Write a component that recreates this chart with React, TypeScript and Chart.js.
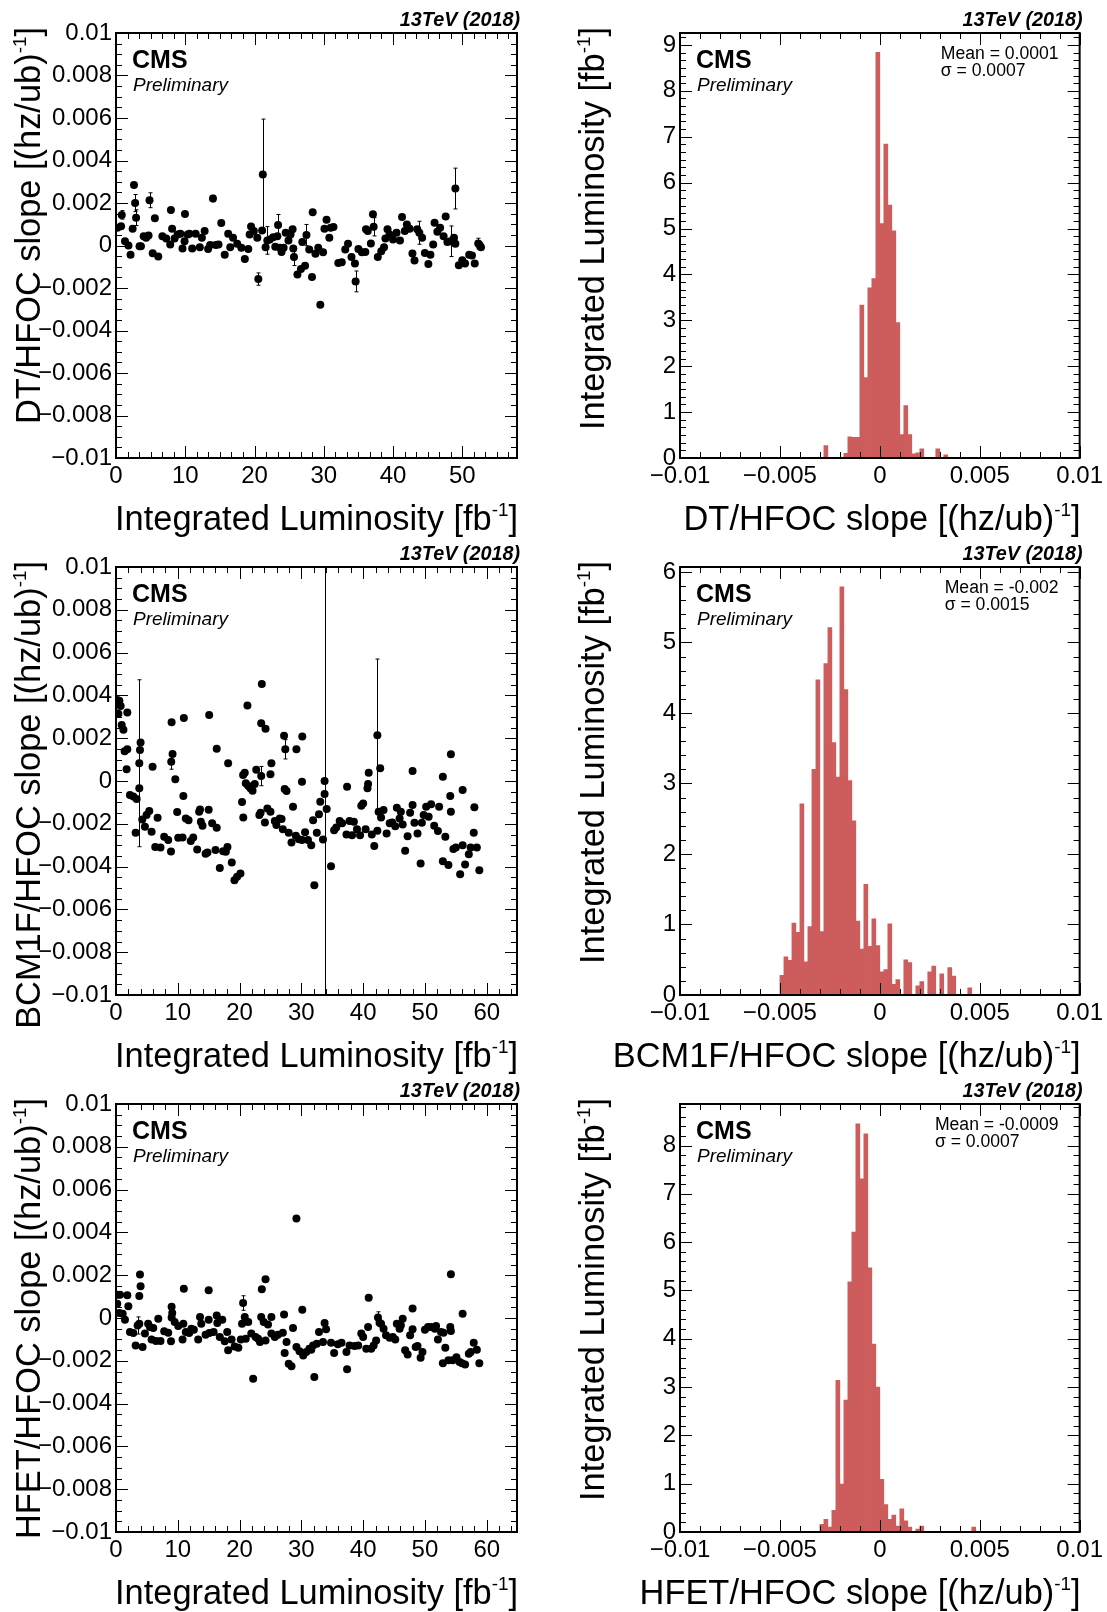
import React, { useEffect, useRef } from 'react';
import { Chart, registerables } from 'chart.js';

Chart.register(...registerables);

const FONT = '"Liberation Sans", Arial, Helvetica, sans-serif';
const ENERGY_LABEL = '13TeV (2018)';
const CMS_LABEL = 'CMS';
const PRELIM_LABEL = 'Preliminary';

// ---------------- DT / HFOC slope vs integrated luminosity ----------------
const dtLumi = [
  0.2, 0.73, 0.83, 1.3, 1.8, 2.1, 2.4, 2.6, 2.76, 2.9,
  3.4, 3.6, 4.0, 4.35, 4.7, 4.84, 5.3, 5.61, 6.1, 6.7,
  7.25, 7.83, 7.93, 8.1, 8.46, 8.9, 9.3, 9.6, 9.9, 9.96,
  10.35, 10.6, 11.0, 11.5, 12.1, 12.4, 12.8, 13.3, 13.6, 14.0,
  14.4, 14.8, 15.2, 15.7, 16.2, 16.5, 16.9, 17.5, 18.1, 18.6,
  19.1, 19.3, 19.5, 19.9, 20.4, 20.55, 21.1, 21.2, 21.6, 21.85,
  22.2, 22.7, 23.0, 23.3, 23.4, 23.7, 23.9, 24.2, 24.5, 24.9,
  25.2, 25.5, 25.6, 25.7, 26.2, 26.7, 26.9, 27.3, 27.5, 27.9,
  28.3, 28.4, 28.8, 29.2, 29.5, 29.9, 30.1, 30.4, 30.8, 31.0,
  31.4, 32.1, 32.6, 33.1, 33.5, 34.0, 34.5, 34.6, 35.0, 35.5,
  36.0, 36.1, 36.35, 36.8, 37.1, 37.2, 37.8, 38.3, 38.7, 38.9,
  39.2, 39.5, 40.0, 40.5, 41.0, 41.3, 41.7, 42.0, 42.4, 42.8,
  43.1, 43.5, 43.8, 44.2, 44.6, 45.1, 45.4, 45.8, 46.0, 46.4,
  46.8, 47.3, 47.6, 47.85, 48.3, 48.8, 49.0, 49.0, 49.5, 50.0,
  50.4, 51.0, 51.4, 51.8, 52.3, 52.5, 52.7,
];
const dtSlope = [
  0.84e-3, 0.91e-3, 1.44e-3, 0.2e-3, 0, -0.44e-3, 0.79e-3, 2.85e-3, 2.0e-3, 1.31e-3,
  -0.03e-3, -0.03e-3, 0.44e-3, 0.36e-3, 0.47e-3, 2.13e-3, -0.36e-3, 1.28e-3, -0.52e-3, 0.44e-3,
  0.33e-3, 0.05e-3, 1.67e-3, 0.79e-3, 0.33e-3, 0.52e-3, 0.55e-3, -0.14e-3, 0.2e-3, 1.48e-3,
  0.52e-3, 0.55e-3, -0.14e-3, 0.55e-3, -0.08e-3, 0.36e-3, 0.68e-3, -0.17e-3, 0.02e-3, 2.21e-3,
  0.02e-3, 0.05e-3, 1.06e-3, -0.44e-3, 0.55e-3, -0.08e-3, 0.36e-3, 0.08e-3, -0.11e-3, -0.63e-3,
  -0.16e-3, 0.52e-3, 0.9e-3, 0.68e-3, 0.36e-3, -1.58e-3, 0.71e-3, 3.34e-3, -0.08e-3, 0.24e-3,
  0.28e-3, 0.39e-3, -0.06e-3, 0.44e-3, 0.96e-3, -0.11e-3, -0.3e-3, -0.11e-3, 0.6e-3, 0.24e-3,
  0.52e-3, 0.76e-3, -0.14e-3, -0.54e-3, -1.37e-3, -1.1e-3, 0.16e-3, -0.95e-3, 0.49e-3, -0.19e-3,
  -1.48e-3, 1.56e-3, -0.39e-3, -0.11e-3, -2.79e-3, -0.32e-3, 0.79e-3, 1.21e-3, 0.36e-3, 0.84e-3,
  0.87e-3, -0.82e-3, -0.79e-3, -0.19e-3, 0.08e-3, -0.54e-3, -0.85e-3, -1.69e-3, -0.16e-3, -0.32e-3,
  -0.3e-3, 0.76e-3, 0.68e-3, 0.09e-3, 1.47e-3, 0.88e-3, -0.54e-3, -0.27e-3, -0.08e-3, 0.33e-3,
  0.76e-3, 0.52e-3, 0.28e-3, 0.6e-3, 0.24e-3, 1.34e-3, 0.68e-3, 0.99e-3, 0.79e-3, -0.38e-3,
  -0.71e-3, 0.76e-3, 0.6e-3, 0.36e-3, -0.35e-3, -0.87e-3, -0.43e-3, 0.05e-3, 1.07e-3, 0.65e-3,
  0.84e-3, 0.44e-3, 1.36e-3, 0.16e-3, 0.2e-3, 0.36e-3, 2.68e-3, 0.08e-3, -0.93e-3, -0.69e-3,
  -0.85e-3, -0.43e-3, -0.47e-3, -0.85e-3, 0.09e-3, 0.02e-3, -0.08e-3,
];
const dtErrLumi = [0.83, 2.76, 2.9, 4.84, 14.0, 20.55, 21.2, 21.85, 23.4, 25.7, 27.5, 34.6, 37.2, 43.8, 48.3, 49.0, 52.3];
const dtErrSlope = [1.44e-3, 2.0e-3, 1.31e-3, 2.13e-3, 2.21e-3, -1.58e-3, 3.34e-3, 0.24e-3, 0.96e-3, -0.54e-3, 0.49e-3, -1.69e-3, 0.88e-3, 0.6e-3, 0.2e-3, 2.68e-3, 0.09e-3];
const dtErrSize = [0.2e-3, 0.4e-3, 0.37e-3, 0.35e-3, 0.15e-3, 0.29e-3, 2.61e-3, 0.65e-3, 0.5e-3, 0.4e-3, 0.5e-3, 0.49e-3, 0.43e-3, 0.54e-3, 0.72e-3, 0.96e-3, 0.25e-3];

// ---------------- BCM1F / HFOC slope vs integrated luminosity ----------------
const bcmLumi = [
  0.2, 0.54, 0.05, 0.38, 0.75, 0.92, 1.2, 1.4, 1.83, 1.83,
  1.72, 2.26, 2.8, 3.34, 3.18, 3.77, 3.77, 3.88, 3.98, 4.25,
  4.68, 4.95, 5.38, 5.76, 5.92, 6.35, 6.73, 7.2, 7.8, 8.45,
  8.9, 9.0, 9.15, 8.94, 9.6, 9.9, 10.07, 10.77, 10.98, 10.9,
  11.3, 11.74, 12.1, 12.5, 13.14, 13.46, 13.6, 13.73, 14.0, 14.5,
  14.8, 15.0, 15.08, 15.56, 16.1, 16.3, 16.3, 16.8, 17.34, 17.77,
  18.04, 18.15, 18.74, 19.17, 19.6, 20.14, 20.4, 20.6, 20.57, 20.84,
  21.27, 21.0, 21.38, 21.75, 22.1, 22.46, 22.7, 23.5, 23.6, 23.5,
  24.2, 23.2, 23.4, 24.1, 24.5, 25.0, 25.15, 25.0, 25.7, 25.96,
  26.5, 26.8, 27.0, 27.2, 27.4, 27.3, 27.6, 27.95, 28.4, 28.65,
  29.1, 29.2, 29.6, 30.1, 30.15, 30.1, 30.6, 31.07,
  31.6, 32.1, 31.9, 32.5, 32.85, 33.06, 33.5, 33.76, 33.76, 34.1,
  34.8, 35.3, 35.65, 36.2, 36.6, 37.3, 37.4, 37.8, 38.2, 38.5,
  39.0, 39.5, 39.7, 40.0, 40.4, 40.7, 40.8, 40.9, 41.4, 41.8,
  42.3, 42.3, 42.76, 42.5, 42.9, 43.3, 43.8, 44.3, 44.7, 45.2,
  45.45, 45.9, 46.1, 46.4, 46.8, 47.2, 47.6, 48.0, 48.0, 48.3,
  48.8, 49.3, 49.5, 49.8, 50.2, 50.6, 51.0, 51.5, 52.1, 52.3,
  52.9, 52.9, 53.3, 53.8, 54.1, 54.2, 54.2, 54.6, 55.0, 55.7,
  56.1, 56.1, 56.5, 57.1, 57.4, 57.9, 58.0, 58.4, 58.8,
];
const bcmSlope = [
  3.79e-3, 3.75e-3, 3.17e-3, 3.14e-3, 3.51e-3, 2.62e-3, 2.39e-3, 1.39e-3, 1.48e-3, 3.2e-3,
  0.55e-3, -0.66e-3, -0.73e-3, -0.84e-3, -2.42e-3, -0.34e-3, 0.83e-3, 1.45e-3, 1.8e-3, -1.8e-3,
  -2.14e-3, -1.59e-3, -1.4e-3, -2.37e-3, 0.67e-3, -3.08e-3, -1.72e-3, -3.11e-3, -2.6e-3, -2.76e-3,
  -3.29e-3, 2.75e-3, 1.26e-3, 0.9e-3, 0.08e-3, -1.45e-3, -2.65e-3, -2.64e-3, 2.94e-3, -0.7e-3,
  -1.75e-3, -1.83e-3, -2.8e-3, -2.64e-3, -3.2e-3, -1.44e-3, -1.33e-3, -1.9e-3, -2.09e-3, -3.4e-3,
  -3.34e-3, -1.34e-3, 3.08e-3, -1.98e-3, -3.23e-3, -2.19e-3, 1.51e-3, -4.07e-3, -3.28e-3, -3.31e-3,
  -3.08e-3, 0.83e-3, -3.81e-3, -4.64e-3, -4.48e-3, -4.32e-3, -0.98e-3, -1.7e-3, 0.28e-3, 0.39e-3,
  3.53e-3, -0.11e-3, -0.22e-3, -0.34e-3, -0.45e-3, -0.14e-3, 0.52e-3, 0.23e-3, 4.53e-3, 2.7e-3,
  2.44e-3, -1.59e-3, -1.48e-3, -1.94e-3, -1.28e-3, -1.44e-3, 0.83e-3, 0.31e-3, -1.87e-3, -2.06e-3,
  -1.75e-3, -1.78e-3, -2.26e-3, 2.11e-3, 1.48e-3, -0.37e-3, -0.47e-3, -2.42e-3, -2.87e-3, -1.2e-3,
  -2.56e-3, 1.48e-3, -2.72e-3, -2.76e-3, 2.08e-3, -0.03e-3, -2.4e-3, -2.76e-3,
  -3.0e-3, -4.87e-3, -1.83e-3, -2.42e-3, -1.55e-3, -0.97e-3, -2.73e-3, -0.61e-3, 0.0, -1.31e-3,
  -3.98e-3, -2.3e-3, -2.17e-3, -1.87e-3, -1.98e-3, -2.5e-3, -0.27e-3, -1.87e-3, -2.53e-3, -1.9e-3,
  -2.26e-3, -2.53e-3, -1.16e-3, -1.05e-3, -2.25e-3, -0.34e-3, -0.14e-3, 0.39e-3, -2.5e-3, -3.04e-3,
  -2.33e-3, 2.14e-3, 0.59e-3, -1.44e-3, -1.7e-3, -1.36e-3, -2.45e-3, -1.98e-3, -1.94e-3, -2.11e-3,
  -1.25e-3, -1.75e-3, -1.44e-3, -2.03e-3, -3.26e-3, -2.58e-3, -1.48e-3, 0.47e-3, -1.12e-3, -1.95e-3,
  -2.45e-3, -3.86e-3, -1.95e-3, -1.59e-3, -1.2e-3, -1.67e-3, -1.09e-3, -2.09e-3, -2.34e-3, -1.2e-3,
  0.2e-3, -3.75e-3, -2.61e-3, -3.93e-3, -0.7e-3, -1.44e-3, 1.25e-3, -3.18e-3, -3.11e-3, -4.36e-3,
  -0.42e-3, -3.0e-3, -3.9e-3, -3.42e-3, -3.11e-3, -2.42e-3, -1.23e-3, -3.11e-3, -4.17e-3,
];
const bcmErrLumi = [3.77, 8.94, 23.5, 27.4, 33.76, 42.3];
const bcmErrSlope = [0.83e-3, 0.9e-3, 0.23e-3, 1.48e-3, 0.0, 2.14e-3];
const bcmErrSize = [3.9e-3, 0.35e-3, 0.45e-3, 0.45e-3, 15e-3, 3.56e-3];

// ---------------- HFET / HFOC slope vs integrated luminosity ----------------
const hfetLumi = [
  0.2, 0.65, 0.2, 0.54, 1.08, 1.45, 1.83, 2.0, 2.26, 2.8,
  3.18, 3.5, 3.77, 3.88, 3.98, 3.77, 4.3, 4.68, 5.2, 5.5,
  5.76, 6.03, 6.46, 6.84, 7.2, 7.8, 8.45, 8.9, 9.0, 9.1,
  9.0, 9.5, 10.07, 10.77, 10.98, 10.9, 11.3, 11.85, 12.2, 12.6,
  13.3, 13.6, 13.8, 14.5, 15.0, 15.0, 15.1, 15.8, 16.3, 16.4,
  16.8, 17.2, 17.6, 18.0, 18.15, 18.7, 19.2, 19.8, 20.2, 20.4,
  20.57, 20.84, 21.0, 21.4, 21.9, 22.2, 22.6, 23.0, 23.3, 23.5,
  23.6, 24.2, 23.9, 24.2, 24.6, 25.15, 25.15, 25.7, 26.2, 27.0,
  27.2, 27.3, 27.6, 27.95, 28.4, 28.65, 29.2, 29.2, 29.7, 30.15,
  30.3, 30.8, 31.3,
  31.6, 32.1, 31.9, 32.5, 32.85, 33.5, 33.76, 34.0, 34.8, 35.3,
  35.9, 36.5, 37.3, 37.4, 37.8, 38.6, 39.2, 39.7, 40.0, 40.5,
  40.8, 40.9, 41.3, 41.7, 42.1, 42.4, 42.65, 42.9, 43.3, 43.7,
  44.3, 44.8, 45.2, 45.45, 45.9, 46.4, 46.1, 46.8, 47.2, 47.6,
  48.0, 48.0, 48.5, 48.8, 49.3, 49.6, 50.0, 50.5, 51.0, 51.6,
  51.8, 52.1, 52.6, 53.0, 52.9, 53.3, 53.8, 54.1, 54.2, 54.2,
  54.5, 55.1, 55.6, 56.1, 56.0, 56.5, 57.1, 57.4, 57.9, 58.4,
  58.8,
];
const hfetSlope = [
  1.09e-3, 1.09e-3, 0.67e-3, 0.23e-3, 0.2e-3, -0.08e-3, 1.06e-3, 0.55e-3, -0.66e-3, -0.7e-3,
  -1.28e-3, -0.35e-3, -0.27e-3, 2.03e-3, 1.48e-3, 1.03e-3, -1.36e-3, -0.73e-3, -0.27e-3, -0.42e-3,
  -1.01e-3, -0.47e-3, -1.08e-3, -0.03e-3, -1.08e-3, -0.62e-3, -0.69e-3, -1.09e-3, 0.52e-3, 0.23e-3,
  0.02e-3, -0.19e-3, -0.37e-3, -1.01e-3, 1.37e-3, -0.27e-3, -0.66e-3, -0.7e-3, -0.5e-3, -0.55e-3,
  -1.01e-3, 0.05e-3, -0.27e-3, -0.78e-3, -0.08e-3, 1.3e-3, -0.7e-3, -0.66e-3, 0.12e-3, -0.23e-3,
  -0.89e-3, -0.08e-3, -1.09e-3, -0.66e-3, -1.51e-3, -1.0e-3, -1.33e-3, -1.39e-3, -1.01e-3, -0.27e-3,
  0.7e-3, 0.05e-3, -0.97e-3, -0.19e-3, -0.73e-3, -2.84e-3, -0.89e-3, -0.97e-3, -1.12e-3, 0.05e-3,
  1.34e-3, 1.81e-3, -0.19e-3, -1.05e-3, -0.3e-3, 0.05e-3, -0.73e-3, -0.89e-3, -0.78e-3, -0.69e-3,
  0.16e-3, -1.64e-3, -1.12e-3, -2.14e-3, -2.25e-3, -0.47e-3, 4.65e-3, -1.36e-3, -1.55e-3, 0.39e-3,
  -1.75e-3, -1.59e-3, -1.44e-3,
  -1.48e-3, -2.76e-3, -1.28e-3, -1.2e-3, -0.66e-3, -1.12e-3, -0.23e-3, -0.53e-3, -1.16e-3, -1.64e-3,
  -1.23e-3, -1.16e-3, -1.59e-3, -2.4e-3, -1.28e-3, -1.31e-3, -1.28e-3, -0.73e-3, -0.89e-3, -1.44e-3,
  -0.42e-3, 0.95e-3, -1.44e-3, -1.28e-3, -1.05e-3, 0.02e-3, -0.22e-3, -0.27e-3, -0.5e-3, -0.81e-3,
  -0.92e-3, -0.89e-3, -1.0e-3, -0.27e-3, -0.5e-3, -0.03e-3, -0.34e-3, -1.51e-3, -1.7e-3, -0.81e-3,
  0.44e-3, -0.53e-3, -1.36e-3, -1.31e-3, -1.86e-3, -1.59e-3, -0.55e-3, -0.42e-3, -0.42e-3, -0.5e-3,
  -0.37e-3, -1.01e-3, -0.66e-3, -0.69e-3, -2.11e-3, -1.39e-3, -1.98e-3, -0.42e-3, 2.05e-3, -0.61e-3,
  -1.98e-3, -1.83e-3, -2.06e-3, 0.2e-3, -2.11e-3, -2.17e-3, -1.67e-3, -1.59e-3, -1.16e-3, -1.48e-3,
  -2.11e-3,
];
const hfetErrLumi = [3.5, 20.57, 42.4];
const hfetErrSlope = [-0.35e-3, 0.7e-3, 0.02e-3];
const hfetErrSize = [0.4e-3, 0.34e-3, 0.27e-3];

// ---------------- Histograms (bin centre, integrated luminosity) ----------------
const dtHistCenter = [-0.0027, -0.0017, -0.0015, -0.0013, -0.0011, -0.0009, -0.0007, -0.0005, -0.0003, -0.0001, 0.0001, 0.0003, 0.0005, 0.0007, 0.0009, 0.0011, 0.0013, 0.0015, 0.0017, 0.0019, 0.0021, 0.0029, 0.0033];
const dtHistLumi = [0.27, 0.1, 0.46, 0.45, 0.45, 3.33, 1.75, 3.71, 3.91, 8.84, 5.11, 6.84, 5.51, 4.95, 2.95, 0.51, 1.14, 0.51, 0.09, 0.11, 0.2, 0.2, 0.07];

const bcmHistCenter = [-0.0049, -0.0047, -0.0045, -0.0043, -0.0041, -0.0039, -0.0037, -0.0035, -0.0033, -0.0031, -0.0029, -0.0027, -0.0025, -0.0023, -0.0021, -0.0019, -0.0017, -0.0015, -0.0013, -0.0011, -0.0009, -0.0007, -0.0005, -0.0003, -0.0001, 0.0001, 0.0003, 0.0005, 0.0007, 0.0009, 0.0013, 0.0015, 0.0019, 0.0021, 0.0025, 0.0027, 0.0031, 0.0035, 0.0037, 0.0045];
const bcmHistLumi = [0.28, 0.54, 0.49, 1.02, 0.89, 2.71, 0.47, 0.97, 3.2, 4.47, 0.9, 4.7, 5.21, 3.58, 3.09, 5.79, 4.33, 3.04, 2.47, 1.05, 0.65, 1.57, 0.69, 1.08, 0.7, 0.33, 0.36, 1.01, 0.15, 0.22, 0.5, 0.46, 0.13, 0.19, 0.33, 0.41, 0.3, 0.39, 0.27, 0.1];

const hfetHistCenter = [-0.0029, -0.0027, -0.0025, -0.0023, -0.0021, -0.0019, -0.0017, -0.0015, -0.0013, -0.0011, -0.0009, -0.0007, -0.0005, -0.0003, -0.0001, 0.0001, 0.0003, 0.0005, 0.0007, 0.0009, 0.0011, 0.0013, 0.0015, 0.0019, 0.0021, 0.0047];
const hfetHistLumi = [0.16, 0.26, 0.1, 0.45, 3.14, 0.99, 2.73, 5.18, 6.21, 8.45, 7.31, 8.24, 5.47, 3.89, 3.0, 1.09, 0.57, 0.26, 0.35, 0.12, 0.48, 0.23, 0.1, 0.06, 0.12, 0.1];

// ---------------- Stats boxes ----------------
const dtStats = ['Mean = 0.0001', 'σ = 0.0007'];
const bcmStats = ['Mean = -0.002', 'σ = 0.0015'];
const hfetStats = ['Mean = -0.0009', 'σ = 0.0007'];

// ---------------- Ticks ----------------
const slopeTickValues = [-0.01, -0.008, -0.006, -0.004, -0.002, 0, 0.002, 0.004, 0.006, 0.008, 0.01];
const slopeTickLabels = ['−0.01', '−0.008', '−0.006', '−0.004', '−0.002', '0', '0.002', '0.004', '0.006', '0.008', '0.01'];
const lumiTickValuesA = [0, 10, 20, 30, 40, 50];
const lumiTickLabelsA = ['0', '10', '20', '30', '40', '50'];
const lumiTickValuesB = [0, 10, 20, 30, 40, 50, 60];
const lumiTickLabelsB = ['0', '10', '20', '30', '40', '50', '60'];
const histXTickValues = [-0.01, -0.005, 0, 0.005, 0.01];
const histXTickLabels = ['−0.01', '−0.005', '0', '0.005', '0.01'];
const dtHistYTicks = [0, 1, 2, 3, 4, 5, 6, 7, 8, 9];
const dtHistYLabels = ['0', '1', '2', '3', '4', '5', '6', '7', '8', '9'];
const bcmHistYTicks = [0, 1, 2, 3, 4, 5, 6];
const bcmHistYLabels = ['0', '1', '2', '3', '4', '5', '6'];
const hfetHistYTicks = [0, 1, 2, 3, 4, 5, 6, 7, 8];
const hfetHistYLabels = ['0', '1', '2', '3', '4', '5', '6', '7', '8'];

type Rich = [string, string, string];

// ---------------- Axis titles: [text, superscript, tail] ----------------
const lumiTitle: Rich = ['Integrated Luminosity [fb', '-1', ']'];
const dtTitle: Rich = ['DT/HFOC slope [(hz/ub)', '-1', ']'];
const bcmTitle: Rich = ['BCM1F/HFOC slope [(hz/ub)', '-1', ']'];
const hfetTitle: Rich = ['HFET/HFOC slope [(hz/ub)', '-1', ']'];

// ---------------- Layout ----------------
const PLOT_TOP = 33;
const AXIS_H = 87;
const LEFT_COL = { left: 0, width: 553, axisW: 116, padRight: 36 };
const RIGHT_COL = { left: 553, width: 554, axisW: 127, padRight: 26 };
const ROWS = [
  { top: 0, height: 545 },
  { top: 534, height: 548 },
  { top: 1071, height: 548 },
];

interface Panel {
  id: string;
  kind: 'scatter' | 'hist';
  col: typeof LEFT_COL;
  row: { top: number; height: number };
  xs: number[];
  ys: number[];
  errX?: number[];
  errY?: number[];
  errS?: number[];
  xMin: number; xMax: number; xTicks: number[]; xLabels: string[]; xMinor: number;
  yMin: number; yMax: number; yTicks: number[]; yLabels: string[]; yMinor: number;
  xTitle: Rich; yTitle: Rich;
  stats?: string[];
}

const PANELS: Panel[] = [
  {
    id: 'dt', kind: 'scatter', col: LEFT_COL, row: ROWS[0], xs: dtLumi, ys: dtSlope,
    errX: dtErrLumi, errY: dtErrSlope, errS: dtErrSize,
    xMin: 0, xMax: 57.9, xTicks: lumiTickValuesA, xLabels: lumiTickLabelsA, xMinor: 10 / 6,
    yMin: -0.01, yMax: 0.01, yTicks: slopeTickValues, yLabels: slopeTickLabels, yMinor: 0.0005,
    xTitle: lumiTitle, yTitle: dtTitle,
  },
  {
    id: 'dtH', kind: 'hist', col: RIGHT_COL, row: ROWS[0], xs: dtHistCenter, ys: dtHistLumi,
    xMin: -0.01, xMax: 0.01, xTicks: histXTickValues, xLabels: histXTickLabels, xMinor: 0.001,
    yMin: 0, yMax: 9.26, yTicks: dtHistYTicks, yLabels: dtHistYLabels, yMinor: 1 / 6,
    xTitle: dtTitle, yTitle: lumiTitle, stats: dtStats,
  },
  {
    id: 'bcm', kind: 'scatter', col: LEFT_COL, row: ROWS[1], xs: bcmLumi, ys: bcmSlope,
    errX: bcmErrLumi, errY: bcmErrSlope, errS: bcmErrSize,
    xMin: 0, xMax: 64.9, xTicks: lumiTickValuesB, xLabels: lumiTickLabelsB, xMinor: 2,
    yMin: -0.01, yMax: 0.01, yTicks: slopeTickValues, yLabels: slopeTickLabels, yMinor: 0.0005,
    xTitle: lumiTitle, yTitle: bcmTitle,
  },
  {
    id: 'bcmH', kind: 'hist', col: RIGHT_COL, row: ROWS[1], xs: bcmHistCenter, ys: bcmHistLumi,
    xMin: -0.01, xMax: 0.01, xTicks: histXTickValues, xLabels: histXTickLabels, xMinor: 0.001,
    yMin: 0, yMax: 6.07, yTicks: bcmHistYTicks, yLabels: bcmHistYLabels, yMinor: 0.2,
    xTitle: bcmTitle, yTitle: lumiTitle, stats: bcmStats,
  },
  {
    id: 'hfet', kind: 'scatter', col: LEFT_COL, row: ROWS[2], xs: hfetLumi, ys: hfetSlope,
    errX: hfetErrLumi, errY: hfetErrSlope, errS: hfetErrSize,
    xMin: 0, xMax: 64.9, xTicks: lumiTickValuesB, xLabels: lumiTickLabelsB, xMinor: 2,
    yMin: -0.01, yMax: 0.01, yTicks: slopeTickValues, yLabels: slopeTickLabels, yMinor: 0.0005,
    xTitle: lumiTitle, yTitle: hfetTitle,
  },
  {
    id: 'hfetH', kind: 'hist', col: RIGHT_COL, row: ROWS[2], xs: hfetHistCenter, ys: hfetHistLumi,
    xMin: -0.01, xMax: 0.01, xTicks: histXTickValues, xLabels: histXTickLabels, xMinor: 0.001,
    yMin: 0, yMax: 8.86, yTicks: hfetHistYTicks, yLabels: hfetHistYLabels, yMinor: 0.2,
    xTitle: hfetTitle, yTitle: lumiTitle, stats: hfetStats,
  },
];

const TITLE_SIZE = 34.4;

function drawRichRight(ctx: CanvasRenderingContext2D, t: Rich, x: number, y: number, size: number) {
  const normal = `${size}px ${FONT}`;
  const sup = `${size * 0.55}px ${FONT}`;
  ctx.font = normal;
  const w0 = ctx.measureText(t[0]).width;
  const w2 = ctx.measureText(t[2]).width;
  ctx.font = sup;
  const w1 = ctx.measureText(t[1]).width;
  let sx = x - (w0 + w1 + w2);
  ctx.textAlign = 'left';
  ctx.textBaseline = 'alphabetic';
  ctx.font = normal;
  ctx.fillText(t[0], sx, y);
  sx += w0;
  ctx.font = sup;
  ctx.fillText(t[1], sx, y - size * 0.42);
  sx += w1;
  ctx.font = normal;
  ctx.fillText(t[2], sx, y);
}

function stepValues(min: number, max: number, step: number) {
  const out: number[] = [];
  const k0 = Math.ceil(min / step - 1e-6);
  for (let k = k0; k * step <= max + step * 1e-6; k++) out.push(k * step);
  return out;
}

function makeDeco(p: Panel) {
  return {
    id: 'deco_' + p.id,
    beforeDatasetsDraw(chart: any) {
      if (!p.errX) return;
      const { ctx, chartArea: a, scales } = chart;
      const xs = scales.x, ys = scales.y;
      ctx.save();
      ctx.beginPath();
      ctx.rect(a.left, a.top, a.right - a.left, a.bottom - a.top);
      ctx.clip();
      ctx.strokeStyle = '#000';
      ctx.lineWidth = 1;
      p.errX.forEach((xv, i) => {
        const px = Math.round(xs.getPixelForValue(xv)) + 0.5;
        const y1 = ys.getPixelForValue(p.errY![i] - p.errS![i]);
        const y2 = ys.getPixelForValue(p.errY![i] + p.errS![i]);
        ctx.beginPath();
        ctx.moveTo(px, y1); ctx.lineTo(px, y2);
        ctx.moveTo(px - 2, y1); ctx.lineTo(px + 2, y1);
        ctx.moveTo(px - 2, y2); ctx.lineTo(px + 2, y2);
        ctx.stroke();
      });
      ctx.restore();
    },
    afterDraw(chart: any) {
      const { ctx, chartArea: a, scales } = chart;
      const xs = scales.x, ys = scales.y;
      ctx.save();
      ctx.strokeStyle = '#000';
      ctx.lineWidth = 1;
      ctx.beginPath();
      const MAJ = 12, MIN = 6;
      const xMajorPix = p.xTicks.map((v) => xs.getPixelForValue(v));
      for (const v of stepValues(p.xMin, p.xMax, p.xMinor)) {
        const pix = xs.getPixelForValue(v);
        if (xMajorPix.some((m) => Math.abs(m - pix) < 1)) continue;
        const px = Math.round(pix) + 0.5;
        ctx.moveTo(px, a.bottom); ctx.lineTo(px, a.bottom - MIN);
        ctx.moveTo(px, a.top); ctx.lineTo(px, a.top + MIN);
      }
      for (const pix of xMajorPix) {
        const px = Math.round(pix) + 0.5;
        ctx.moveTo(px, a.bottom); ctx.lineTo(px, a.bottom - MAJ);
        ctx.moveTo(px, a.top); ctx.lineTo(px, a.top + MAJ);
      }
      const yMajorPix = p.yTicks.map((v) => ys.getPixelForValue(v));
      for (const v of stepValues(p.yMin, p.yMax, p.yMinor)) {
        const pix = ys.getPixelForValue(v);
        if (yMajorPix.some((m) => Math.abs(m - pix) < 1)) continue;
        const py = Math.round(pix) + 0.5;
        ctx.moveTo(a.left, py); ctx.lineTo(a.left + MIN, py);
        ctx.moveTo(a.right, py); ctx.lineTo(a.right - MIN, py);
      }
      for (const pix of yMajorPix) {
        const py = Math.round(pix) + 0.5;
        ctx.moveTo(a.left, py); ctx.lineTo(a.left + MAJ, py);
        ctx.moveTo(a.right, py); ctx.lineTo(a.right - MAJ, py);
      }
      ctx.stroke();

      ctx.lineWidth = 2;
      ctx.strokeRect(a.left, a.top, a.right - a.left, a.bottom - a.top);

      ctx.fillStyle = '#000';
      ctx.textBaseline = 'alphabetic';
      ctx.textAlign = 'left';
      ctx.font = `bold 25px ${FONT}`;
      ctx.fillText(CMS_LABEL, a.left + 16, a.top + 35);
      ctx.font = `italic 19px ${FONT}`;
      ctx.fillText(PRELIM_LABEL, a.left + 17, a.top + 57.5);
      ctx.textAlign = 'right';
      ctx.font = `italic bold 19.8px ${FONT}`;
      ctx.fillText(ENERGY_LABEL, a.right + 3, a.top - 7);
      if (p.stats) {
        ctx.font = `17.6px ${FONT}`;
        const w = Math.max(...p.stats.map((s) => ctx.measureText(s).width));
        const sx = a.right - 21 - w;
        ctx.textAlign = 'left';
        ctx.fillText(p.stats[0], sx, a.top + 26);
        ctx.fillText(p.stats[1], sx, a.top + 43);
      }
      drawRichRight(ctx, p.xTitle, a.right + 1, a.bottom + 72, TITLE_SIZE);
      ctx.save();
      ctx.translate(a.left - 76, a.top - 6);
      ctx.rotate(-Math.PI / 2);
      drawRichRight(ctx, p.yTitle, 0, 0, TITLE_SIZE);
      ctx.restore();
      ctx.restore();
    },
  };
}

function axisOptions(p: Panel, isX: boolean) {
  const vals = isX ? p.xTicks : p.yTicks;
  const labels = isX ? p.xLabels : p.yLabels;
  return {
    type: 'linear',
    min: isX ? p.xMin : p.yMin,
    max: isX ? p.xMax : p.yMax,
    offset: false,
    afterBuildTicks: (s: any) => {
      s.ticks = vals.map((v) => ({ value: v }));
    },
    afterFit: (s: any) => {
      if (isX) s.height = AXIS_H;
      else s.width = p.col.axisW;
    },
    ticks: {
      callback: (_v: any, i: number) => labels[i],
      font: { family: FONT, size: 24 },
      color: '#000',
      padding: 4,
      autoSkip: false,
      maxRotation: 0,
      minRotation: 0,
    },
    grid: { display: false, drawTicks: false, offset: false },
    border: { display: false },
    title: { display: false },
  };
}

function PanelChart({ p }: { p: Panel }) {
  const ref = useRef<HTMLCanvasElement>(null);
  useEffect(() => {
    const canvas = ref.current;
    if (!canvas) return;
    const points = p.xs.map((x, i) => ({ x, y: p.ys[i] }));
    const dataset: any =
      p.kind === 'hist'
        ? {
            data: points,
            backgroundColor: '#CD5C5C',
            borderWidth: 0,
            barPercentage: 1,
            categoryPercentage: 1,
          }
        : {
            data: points,
            backgroundColor: '#000',
            borderColor: '#000',
            pointRadius: 4,
            pointHoverRadius: 4,
            pointBorderWidth: 0,
            showLine: false,
          };
    const chart = new Chart(canvas, {
      type: p.kind === 'hist' ? 'bar' : 'scatter',
      data: { datasets: [dataset] },
      options: {
        responsive: false,
        animation: false,
        devicePixelRatio: 1,
        events: [],
        layout: { padding: { left: 0, right: p.col.padRight, top: PLOT_TOP, bottom: 0 } },
        plugins: {
          legend: { display: false },
          tooltip: { enabled: false },
          title: { display: false },
        },
        scales: {
          x: axisOptions(p, true),
          y: axisOptions(p, false),
        },
      } as any,
      plugins: [makeDeco(p)],
    });
    return () => chart.destroy();
  }, [p]);
  return (
    <canvas
      ref={ref}
      width={p.col.width}
      height={p.row.height}
      style={{
        position: 'absolute',
        display: 'block',
        left: p.col.left,
        top: p.row.top,
        width: p.col.width,
        height: p.row.height,
      }}
    />
  );
}

export default function App() {
  return (
    <div
      style={{
        position: 'absolute',
        left: 0,
        top: 0,
        width: 1107,
        height: 1612,
        overflow: 'hidden',
        background: '#fff',
      }}
    >
      {PANELS.map((p) => (
        <PanelChart key={p.id} p={p} />
      ))}
    </div>
  );
}
